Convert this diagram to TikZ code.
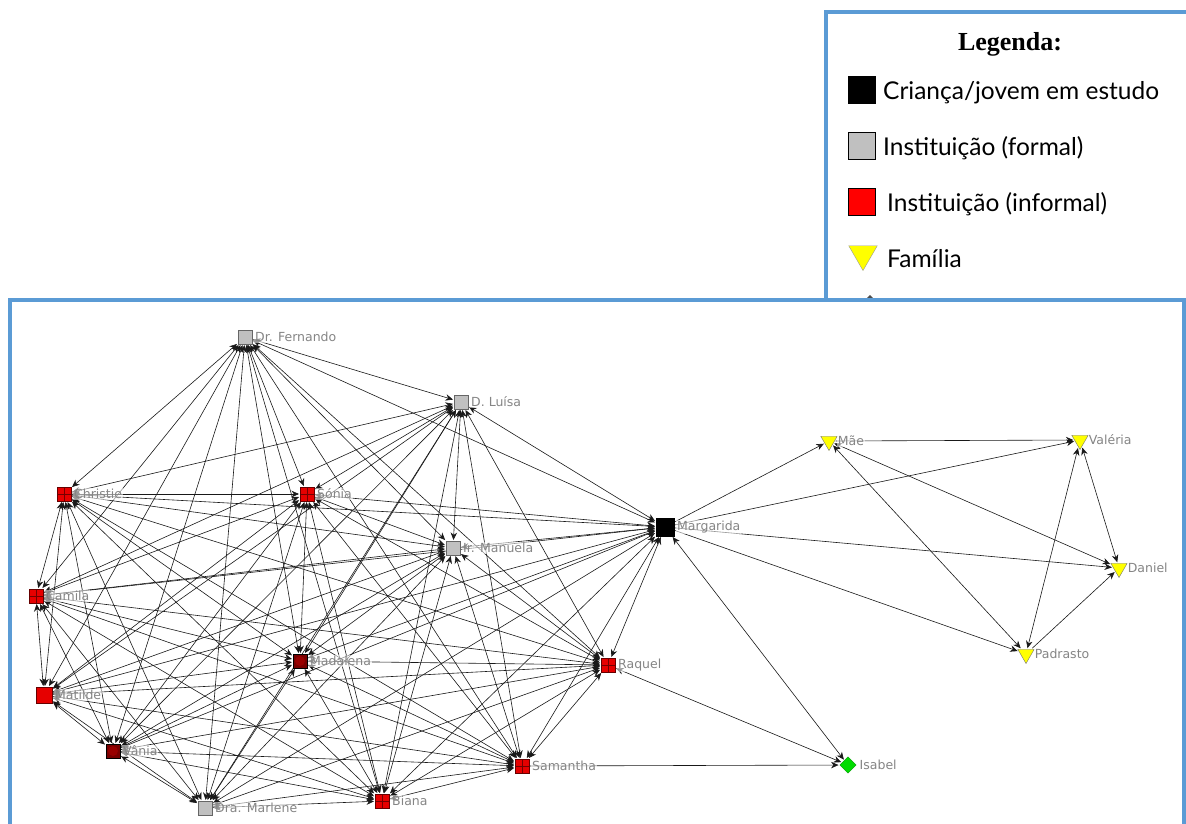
\documentclass[tikz,border=0pt]{standalone}
\usepackage{fontspec}
\setmainfont{DejaVu Sans}
\newfontfamily\legendfont{Lato}
\newfontfamily\titlefont{Liberation Serif}
\usetikzlibrary{shapes.geometric,arrows.meta}
\pgfdeclarelayer{background}
\pgfdeclarelayer{edges}
\pgfsetlayers{background,edges,main}
\definecolor{frameblue}{RGB}{91,155,213}
\definecolor{darkred}{RGB}{120,0,0}
\definecolor{nodered}{RGB}{230,0,0}
\definecolor{lgray}{RGB}{192,192,192}
\definecolor{famyellow}{RGB}{255,255,0}
\definecolor{isagreen}{RGB}{0,220,0}

\tikzset{
  lbl/.style={text=black!48, fill=white, fill opacity=0.55, text opacity=1,
    font=\fontsize{12.5}{14}\selectfont, inner sep=1pt},
  base/.style={inner sep=0pt, outer sep=1pt},
  gridsq/.style={base, rectangle, draw=black!60!red, fill=nodered, minimum size=14pt,
    path picture={\draw[black!55!red, line width=0.7pt]
      (path picture bounding box.north) -- (path picture bounding box.south)
      (path picture bounding box.west) -- (path picture bounding box.east);}},
  redsq/.style={base, rectangle, draw=black!60!red, fill=nodered, minimum size=16pt},
  dotsq/.style={base, rectangle, draw=black, fill=darkred, minimum size=14pt,
    path picture={\fill[red!60!black] (path picture bounding box.center) circle (5pt);}},
  graysq/.style={base, rectangle, draw=black!60, fill=lgray, minimum size=14pt},
  blacksq/.style={base, rectangle, draw=black, fill=black, minimum size=18pt},
  famtri/.style={base, regular polygon, regular polygon sides=3, shape border rotate=180,
    draw=black!55, fill=famyellow, minimum size=19pt},
  isadia/.style={base, diamond, draw=black!40!green, fill=isagreen, minimum size=17pt},
  link/.style={draw=black!90, line width=0.6pt},
  twoway/.style={link, {Stealth[length=7.5pt,width=6.5pt]}-{Stealth[length=7.5pt,width=6.5pt]}},
  oneway/.style={link, -{Stealth[length=7.5pt,width=6.5pt]}},
  legtext/.style={anchor=west, inner sep=0pt, font=\legendfont\fontsize{24.5}{27}\selectfont},
}

\begin{document}
\begin{tikzpicture}[x=1pt,y=-1pt]
\useasboundingbox (0,0) rectangle (1186,823);

% legend panel and the network panel that overlaps it
\begin{pgfonlayer}{background}
  \filldraw[frameblue, fill=white, line width=4pt] (826,12) rectangle (1210,330);
  \node[legtext, anchor=center, font=\titlefont\bfseries\fontsize{26}{29}\selectfont] (legtitle) at (1010,44) {Legenda:};
  \node[base, rectangle, fill=black, minimum size=28pt] (legchild) at (862,90) {};
  \node[legtext] (legchildtxt) at (883,93) {Criança/jovem em estudo};
  \node[base, rectangle, draw=black, line width=1.2pt, fill=lgray, minimum size=27pt] (legformal) at (862,146) {};
  \node[legtext] (legformaltxt) at (883,148) {Instituição (formal)};
  \node[base, rectangle, draw=black, line width=1.2pt, fill=red, minimum size=27pt] (leginformal) at (862,202) {};
  \node[legtext] (leginformaltxt) at (887,204) {Instituição (informal)};
  \node[base, regular polygon, regular polygon sides=3, shape border rotate=180,
    draw=black!40, fill=famyellow, minimum size=33pt] (legfam) at (863,254) {};
  \node[legtext] (legfamtxt) at (887,259) {Família};
  \node[base, diamond, draw=black!70, fill=black!70, minimum size=24pt] (legother) at (870,307) {};
  \filldraw[frameblue, fill=white, line width=4pt] (10,300) rectangle (1184,860);
\end{pgfonlayer}

% actors
\node[graysq]  (fer) at (245,337) {};
\node[graysq]  (lui) at (461,402) {};
\node[gridsq]  (chr) at (64,494) {};
\node[gridsq]  (son) at (307,494) {};
\node[graysq]  (man) at (453,548) {};
\node[blacksq] (mar) at (665,527) {};
\node[gridsq]  (cam) at (36,596) {};
\node[dotsq]   (mad) at (300,661) {};
\node[gridsq]  (raq) at (608,665) {};
\node[redsq]   (mat) at (44,695) {};
\node[dotsq]   (van) at (113,751) {};
\node[gridsq]  (sam) at (522,766) {};
\node[graysq]  (mrl) at (205,808) {};
\node[gridsq]  (bia) at (382,801) {};
\node[famtri]  (mae) at (829,441) {};
\node[famtri]  (val) at (1080,440) {};
\node[famtri]  (dan) at (1119,568) {};
\node[famtri]  (pad) at (1026,654) {};
\node[isadia]  (isa) at (848,765) {};

% names
\foreach \n/\t in {fer/Dr. Fernando, lui/D. Luísa, chr/Christie, son/Sónia, man/Ir. Manuela,
  mar/Margarida, cam/Camila, mad/Madalena, raq/Raquel, mat/Matilde, van/Vânia,
  sam/Samantha, mrl/Dra. Marlene, bia/Biana, mae/Mãe, val/Valéria, dan/Daniel,
  pad/Padrasto, isa/Isabel}
  \node[lbl, anchor=west] (\n-name) at ([xshift=1pt]\n.east) {\t};

% ties
\begin{pgfonlayer}{edges}
  % the support network: every pair of actors is tied both ways
  \foreach \a [count=\i] in {fer,lui,chr,son,man,mar,cam,mad,raq,mat,van,sam,mrl,bia}{
    \foreach \b [count=\j] in {fer,lui,chr,son,man,mar,cam,mad,raq,mat,van,sam,mrl,bia}{
      \ifnum\j>\i
        \draw[twoway] (\a) -- (\b);
      \fi
    }
  }
  % family ties
  \draw[oneway] (mar) -- (mae);
  \draw[oneway] (mar) -- (val);
  \draw[oneway] (mar) -- (dan);
  \draw[oneway] (mar) -- (pad);
  \draw[oneway] (mae) -- (val);
  \draw[twoway] (mae) -- (dan);
  \draw[twoway] (mae) -- (pad);
  \draw[twoway] (val) -- (pad);
  \draw[twoway] (val) -- (dan);
  \draw[oneway] (pad) -- (dan);
  % Isabel
  \draw[twoway] (mar) -- (isa);
  \draw[twoway] (raq) -- (isa);
  \draw[oneway] (sam) -- (isa);
\end{pgfonlayer}
\end{tikzpicture}
\end{document}
